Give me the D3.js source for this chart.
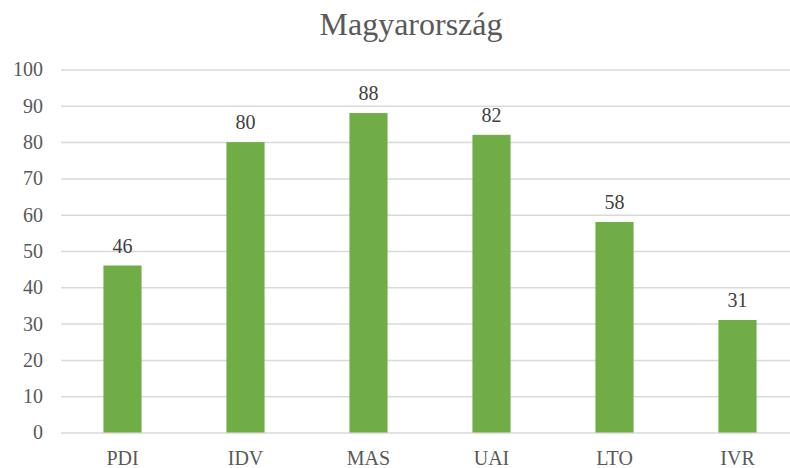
<!DOCTYPE html>
<html><head><meta charset="utf-8">
<script src="https://cdn.jsdelivr.net/npm/d3@7"></script>
<style>body{margin:0;background:#fff}svg{display:block}
svg text{font-family:"Liberation Serif","Times New Roman",Times,serif !important;}</style>
</head><body>
<svg id="c" width="790" height="468"></svg>
<script>
const categories = ["PDI","IDV","MAS","UAI","LTO","IVR"];
const values = [46,80,88,82,58,31];
const yTicks = [0,10,20,30,40,50,60,70,80,90,100];
const title = "Magyarország";

(function(){
const svg = d3.select("#c");
const pLeft = 61, pRight = 799, pTop = 69.5, pBottom = 432.5;

const x = d3.scaleBand().domain(categories).range([pLeft, pRight]).paddingInner(0.69).paddingOuter(0.345);
const y = d3.scaleLinear().domain([0,100]).range([pBottom, pTop]);

svg.append("rect").attr("width",790).attr("height",468).attr("fill","#fff");

// gridlines
const yAxis = d3.axisLeft(y).tickValues(yTicks).tickSize(-(pRight-pLeft)).tickPadding(18);
const g = svg.append("g").attr("transform",`translate(${pLeft},0)`).call(yAxis)
  .attr("font-family",null);
g.select(".domain").remove();
g.selectAll(".tick line").attr("stroke","#D9D9D9").attr("stroke-width",1.5);
g.selectAll(".tick text").attr("fill","#595959").style("font-size","20px");

// bars
svg.selectAll("rect.bar").data(values).enter().append("rect").attr("class","bar")
  .attr("x",(d,i)=>x(categories[i])).attr("width",x.bandwidth())
  .attr("y",d=>y(d)).attr("height",d=>y(0)-y(d)).attr("fill","#70AD47");

// data labels
svg.selectAll("text.lbl").data(values).enter().append("text").attr("class","lbl")
  .attr("x",(d,i)=>x(categories[i])+x.bandwidth()/2).attr("y",d=>y(d)-13)
  .attr("text-anchor","middle").attr("fill","#404040")
  .style("font-size","20px").text(d=>d);

// x axis labels
const xAxis = d3.axisBottom(x).tickSize(0).tickPadding(0);
const gx = svg.append("g").attr("transform",`translate(0,${pBottom})`).call(xAxis)
  .attr("font-family",null);
gx.select(".domain").remove();
gx.selectAll(".tick text").attr("dy",null).attr("y",32.5).attr("fill","#595959")
  .style("font-size","20px");

// title
svg.append("text").attr("x",411).attr("y",35).attr("text-anchor","middle")
  .attr("fill","#595959").style("font-size","32px").text(title);
})();
</script>
</body></html>
